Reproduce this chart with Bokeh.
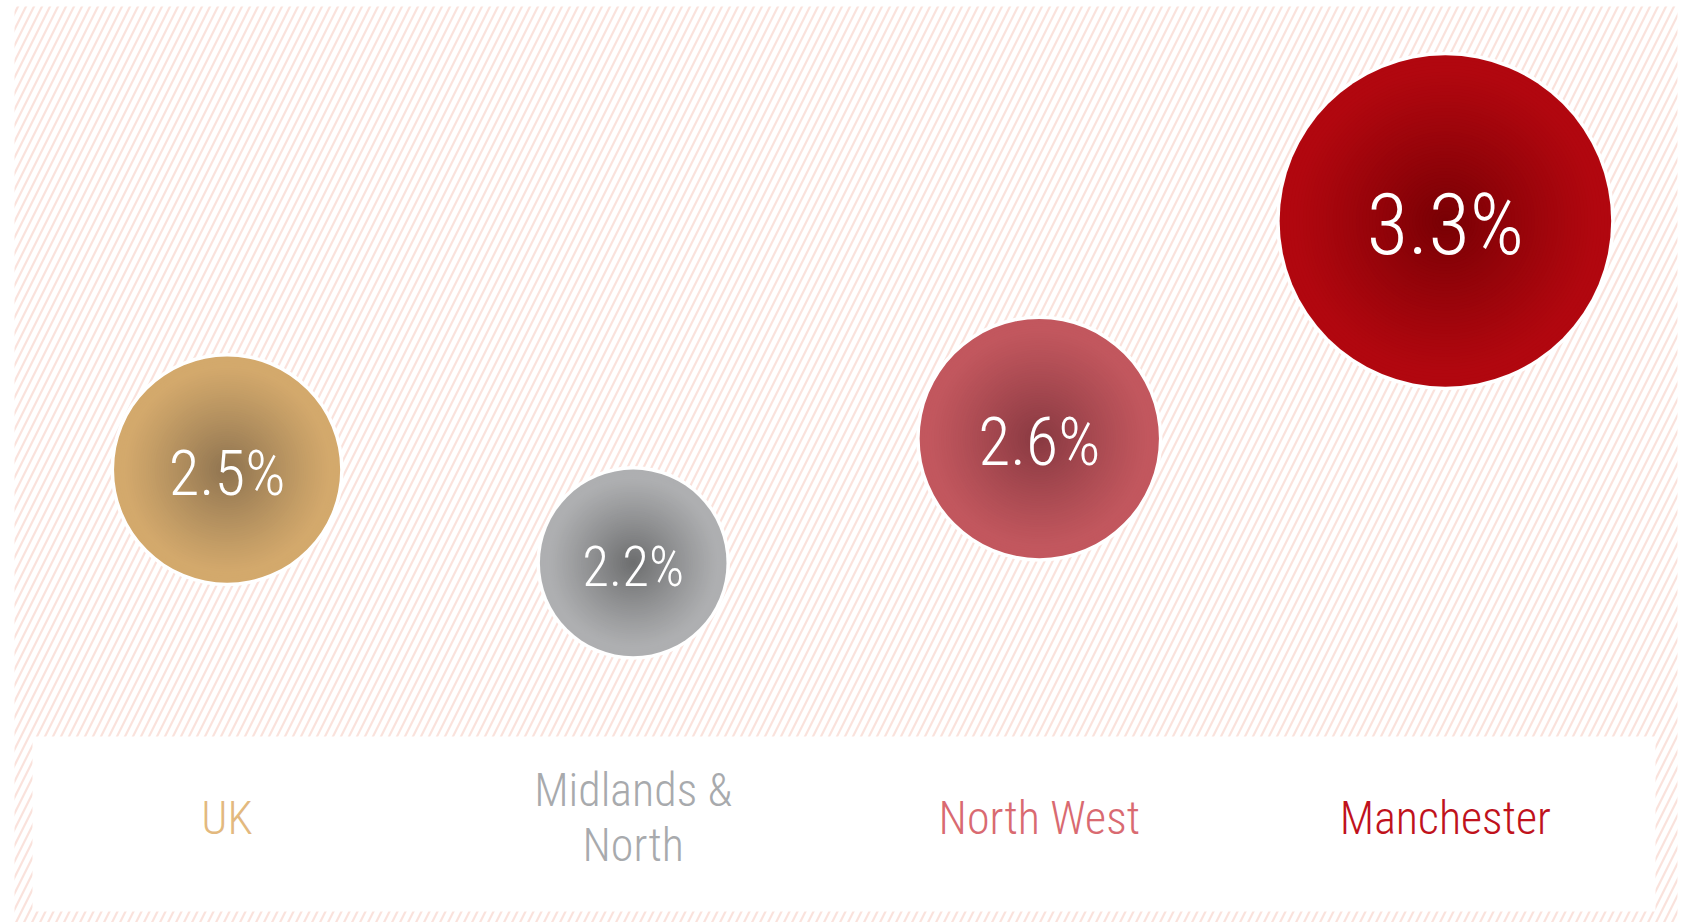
from bokeh.plotting import figure
from bokeh.models import Range1d, BoxAnnotation, ColumnDataSource
from bokeh.embed import file_html
from bokeh.resources import INLINE
from bokeh.core.properties import value

# ---- data ----
categories = ["UK", "Midlands &\nNorth", "North West", "Manchester"]
growth = [2.5, 2.2, 2.6, 3.3]
edge_colors = ["#D3A96C", "#AEAFB1", "#C2575E", "#B1070F"]
center_colors = ["#8E7350", "#6C6D6E", "#883941", "#780004"]
label_colors = ["#E3B97E", "#A8AAAD", "#D96A71", "#C0121C"]

PCT_FONT = value("Roboto Condensed Light, Roboto Condensed, Roboto")
CAT_FONT = value("Roboto Condensed Light, Roboto Condensed, Roboto")

W, H = 1678, 922
p = figure(width=W, height=H, output_backend="svg", toolbar_location=None,
           x_range=Range1d(-0.5580, 3.5740), y_range=Range1d(1.043, 4.0095),
           min_border=0, outline_line_color=None, background_fill_color="white",
           border_fill_color="white")
p.axis.visible = False
p.grid.visible = False

# striped background
p.add_layout(BoxAnnotation(left=-0.5235, right=3.5714, top=3.9902,
                           fill_color="white", fill_alpha=1.0,
                           line_color=None, hatch_pattern="/", hatch_color="#F7CFC4",
                           hatch_alpha=0.6, hatch_scale=16, hatch_weight=2.2,
                           level="underlay"))
# white label panel
p.add_layout(BoxAnnotation(left=-0.4792, right=3.5174, top=1.6414, bottom=1.0784,
                           fill_color="white", fill_alpha=1.0, line_color=None,
                           level="underlay"))


def hex2rgb(h):
    h = h.lstrip("#")
    return [int(h[i:i + 2], 16) for i in (0, 2, 4)]


def mix(c1, c2, t):
    a, b = hex2rgb(c1), hex2rgb(c2)
    return "#%02x%02x%02x" % tuple(int(round(a[k] + (b[k] - a[k]) * t)) for k in range(3))


xs = list(range(len(categories)))
radii = [65.9 * v - 51.7 for v in growth]

# white rim
p.scatter(x=xs, y=growth, size=[2 * r + 7 for r in radii], marker="circle",
          fill_color="white", line_color=None)

# radial gradient approximated by concentric discs
N = 50
rx, ry, rs, rc = [], [], [], []
for i, v in enumerate(growth):
    r = radii[i]
    for k in range(N):
        f = 1.0 - k / N
        t = max(0.0, 1.0 - f / 0.92) ** 1.1
        rx.append(i)
        ry.append(v)
        rs.append(2 * r * f)
        rc.append(mix(edge_colors[i], center_colors[i], t))
p.scatter(x=rx, y=ry, size=rs, marker="circle", fill_color=rc, line_color=None)

# percentage labels
pct = ColumnDataSource(dict(x=xs, y=growth, t=[f"{v}%" for v in growth],
                            fs=[f"{27.7 * v - 6.4:.0f}px" for v in growth]))
p.text(x="x", y="y", text="t", source=pct, text_font=PCT_FONT, text_font_size="fs",
       text_color="white", text_align="center", text_baseline="middle", y_offset=4)

# category labels
label_y = 1.3808
cat = ColumnDataSource(dict(x=xs, y=[label_y] * len(xs), t=categories, c=label_colors))
p.text(x="x", y="y", text="t", source=cat, text_font=CAT_FONT, text_font_size="46px",
       text_color="c", text_align="center", text_baseline="middle",
       text_line_height=1.03)

open("out.html", "w").write(file_html(p, INLINE))
